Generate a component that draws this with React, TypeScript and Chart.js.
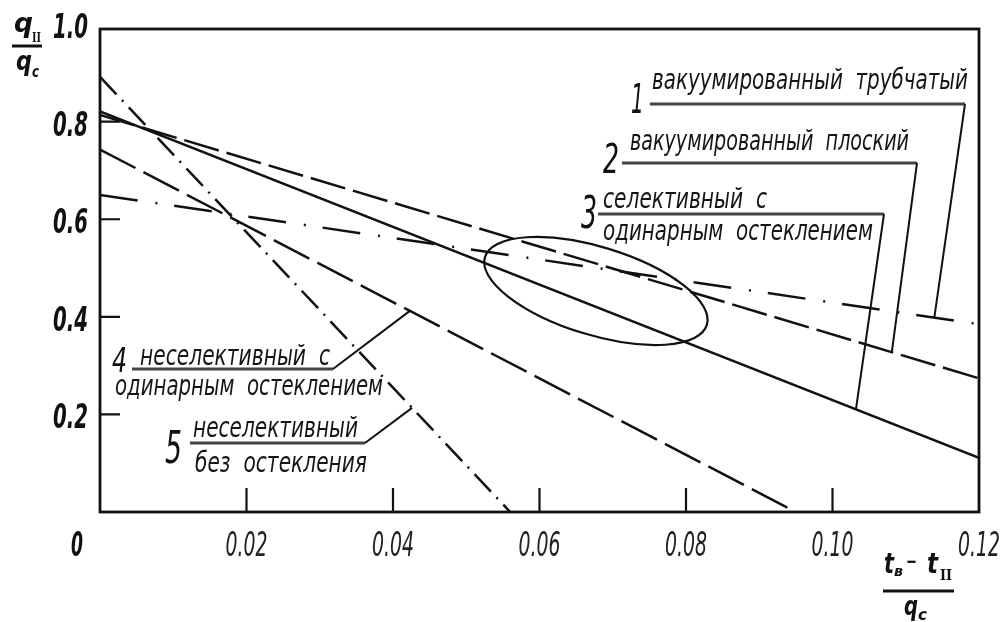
import React, { useEffect, useRef } from "react";
import { Chart, registerables } from "chart.js";

Chart.register(...registerables);

// ---- data ----
const seriesNumbers = ["1", "2", "3", "4", "5"];
const seriesLabels: string[][] = [
  ["вакуумированный  трубчатый"],
  ["вакуумированный  плоский"],
  ["селективный  с", "одинарным  остеклением"],
  ["неселективный  с", "одинарным  остеклением"],
  ["неселективный", "без  остекления"],
];
const line1X = [0, 0.12];
const line1Y = [0.65, 0.385];
const line2X = [0, 0.12];
const line2Y = [0.814, 0.274];
const line3X = [0, 0.12];
const line3Y = [0.821, 0.111];
const line4X = [0, 0.095];
const line4Y = [0.743, 0];
const line5X = [0, 0.056];
const line5Y = [0.892, 0];
const seriesX = [line1X, line2X, line3X, line4X, line5X];
const seriesY = [line1Y, line2Y, line3Y, line4Y, line5Y];

const xTickValues = [0.02, 0.04, 0.06, 0.08, 0.1, 0.12];
const xTickLabels = ["0.02", "0.04", "0.06", "0.08", "0.10", "0.12"];
const yTickValues = [0.2, 0.4, 0.6, 0.8, 1.0];
const yTickLabels = ["0.2", "0.4", "0.6", "0.8", "1.0"];
// leader targets (x value on each series)
const leaderTargetX = [0.1139, 0.1081, 0.1032, 0.0423, 0.0426];
// ellipse centre (data units)
const ellipseCenter = { x: 0.0677, y: 0.453 };

// ---- styles / layout ----
const dashes = [[38, 18, 2, 17], [36, 8], [], [40, 9], [24, 8, 2, 8]];
const FONT = '"DejaVu Sans", "Liberation Sans", sans-serif';

type LabelLayout = {
  num: { x: number; y: number; w: number; size: number };
  l1: { x: number; y: number; w: number };
  ul: { x0: number; x1: number; y: number };
  l2?: { x: number; y: number; w: number };
};
const labelLayout: LabelLayout[] = [
  { num: { x: 631, y: 113, w: 13, size: 41 }, l1: { x: 652, y: 89, w: 316 }, ul: { x0: 650, x1: 965, y: 104 } },
  { num: { x: 603, y: 173, w: 16, size: 41 }, l1: { x: 630, y: 150, w: 279 }, ul: { x0: 622, x1: 917, y: 163 } },
  { num: { x: 581, y: 228, w: 16, size: 44 }, l1: { x: 603, y: 208, w: 164 }, ul: { x0: 598, x1: 884, y: 214 }, l2: { x: 603, y: 240, w: 270 } },
  { num: { x: 112, y: 372, w: 15, size: 33 }, l1: { x: 140, y: 365, w: 190 }, ul: { x0: 132, x1: 333, y: 369 }, l2: { x: 115, y: 395, w: 268 } },
  { num: { x: 165, y: 463, w: 17, size: 45 }, l1: { x: 193, y: 437, w: 165 }, ul: { x0: 190, x1: 365, y: 443 }, l2: { x: 195, y: 472, w: 172 } },
];

function drawText(
  ctx: CanvasRenderingContext2D,
  s: string,
  x: number,
  y: number,
  size: number,
  opts: { w?: number; bold?: boolean; italic?: boolean; align?: "left" | "center" | "right"; color?: string; family?: string } = {}
) {
  ctx.save();
  ctx.font = `${opts.italic === false ? "" : "italic "}${opts.bold ? "bold " : ""}${size}px ${opts.family || FONT}`;
  ctx.fillStyle = opts.color || "#111";
  ctx.textAlign = "left";
  ctx.textBaseline = "alphabetic";
  const m = ctx.measureText(s).width;
  const sx = opts.w ? opts.w / m : 1;
  const w = m * sx;
  const dx = opts.align === "center" ? -w / 2 : opts.align === "right" ? -w : 0;
  ctx.translate(x + dx, y);
  ctx.scale(sx, 1);
  ctx.fillText(s, 0, 0);
  ctx.restore();
}

function valueAt(i: number, xv: number) {
  const X = seriesX[i];
  const Y = seriesY[i];
  return Y[0] + ((Y[1] - Y[0]) * (xv - X[0])) / (X[1] - X[0]);
}

const decor = {
  id: "decor",
  beforeDraw(chart: any) {
    const ctx = chart.ctx as CanvasRenderingContext2D;
    ctx.save();
    ctx.fillStyle = "#fff";
    ctx.fillRect(0, 0, chart.width, chart.height);
    ctx.restore();
  },
  afterDraw(chart: any) {
    const ctx = chart.ctx as CanvasRenderingContext2D;
    const xs = chart.scales.x;
    const ys = chart.scales.y;
    const { left, right, top, bottom } = chart.chartArea;
    ctx.save();
    ctx.strokeStyle = "#111";
    ctx.lineCap = "butt";

    // frame
    ctx.lineWidth = 2.8;
    ctx.strokeRect(left, top, right - left, bottom - top);

    // ticks
    ctx.lineWidth = 2.2;
    ctx.beginPath();
    xTickValues.forEach((v) => {
      if (v >= 0.12) return;
      const px = xs.getPixelForValue(v);
      ctx.moveTo(px, bottom);
      ctx.lineTo(px, bottom - 24);
    });
    yTickValues.forEach((v) => {
      if (v >= 0.99) return;
      const py = ys.getPixelForValue(v);
      ctx.moveTo(left, py);
      ctx.lineTo(left + 20, py);
    });
    ctx.stroke();

    // tick labels
    xTickValues.forEach((v, i) => {
      drawText(ctx, xTickLabels[i], xs.getPixelForValue(v), bottom + 44, 34, { w: 42, align: "center", color: "#222" });
    });
    yTickValues.forEach((v, i) => {
      drawText(ctx, yTickLabels[i], left - 12, ys.getPixelForValue(v) + 14, 34, { w: 35, align: "right", bold: true });
    });
    drawText(ctx, "0", left - 17, bottom + 44, 34, { w: 12, align: "right", bold: true });

    // y title: qII / qc
    drawText(ctx, "q", 14, 32, 27, { bold: true, w: 19 });
    drawText(ctx, "II", 32, 42, 13, { bold: true, italic: false, w: 9, family: '"DejaVu Serif", serif' });
    ctx.lineWidth = 3;
    ctx.beginPath();
    ctx.moveTo(12, 46);
    ctx.lineTo(42, 46);
    ctx.stroke();
    drawText(ctx, "q", 16, 70, 26, { bold: true, w: 16 });
    drawText(ctx, "c", 32, 77, 16, { bold: true, w: 7 });

    // x title: (tв − tII) / qc
    drawText(ctx, "t", 884, 573, 28, { bold: true, w: 10 });
    drawText(ctx, "в", 894, 576, 14, { bold: true, w: 9 });
    drawText(ctx, "−", 906, 568, 20, { bold: true, w: 11, italic: false });
    drawText(ctx, "t", 927, 573, 28, { bold: true, w: 11 });
    drawText(ctx, "II", 940, 580, 14, { bold: true, italic: false, w: 12, family: '"DejaVu Serif", serif' });
    ctx.lineWidth = 3;
    ctx.beginPath();
    ctx.moveTo(883, 591);
    ctx.lineTo(954, 591);
    ctx.stroke();
    drawText(ctx, "q", 904, 615, 26, { bold: true, w: 14 });
    drawText(ctx, "c", 918, 620, 16, { bold: true, w: 9 });

    // ellipse
    ctx.lineWidth = 2.2;
    ctx.beginPath();
    ctx.ellipse(xs.getPixelForValue(ellipseCenter.x), ys.getPixelForValue(ellipseCenter.y), 116, 44, (17 * Math.PI) / 180, 0, Math.PI * 2);
    ctx.stroke();

    // labels with leaders
    labelLayout.forEach((L, i) => {
      drawText(ctx, seriesNumbers[i], L.num.x, L.num.y, L.num.size, { w: L.num.w });
      drawText(ctx, seriesLabels[i][0], L.l1.x, L.l1.y, 28, { w: L.l1.w, color: "#151515" });
      if (L.l2 && seriesLabels[i][1]) drawText(ctx, seriesLabels[i][1], L.l2.x, L.l2.y, 28, { w: L.l2.w, color: "#151515" });
      ctx.strokeStyle = "#444";
      ctx.lineWidth = 2.8;
      ctx.beginPath();
      ctx.moveTo(L.ul.x0, L.ul.y);
      ctx.lineTo(L.ul.x1, L.ul.y);
      ctx.stroke();
      const tx = leaderTargetX[i];
      ctx.strokeStyle = "#111";
      ctx.lineWidth = 2;
      ctx.beginPath();
      ctx.moveTo(L.ul.x1, L.ul.y);
      ctx.lineTo(xs.getPixelForValue(tx), ys.getPixelForValue(valueAt(i, tx)));
      ctx.stroke();
    });

    ctx.restore();
  },
};

export default function App() {
  const ref = useRef<HTMLCanvasElement | null>(null);
  useEffect(() => {
    if (!ref.current) return;
    const datasets = seriesX.map((X, i) => ({
      label: seriesLabels[i].join(" "),
      data: X.map((x, j) => ({ x, y: seriesY[i][j] })),
      showLine: true,
      borderColor: "#111",
      borderWidth: 2.5,
      borderDash: dashes[i],
      pointRadius: 0,
      fill: false,
    }));
    const chart = new Chart(ref.current, {
      type: "scatter",
      data: { datasets },
      options: {
        animation: false,
        responsive: false,
        events: [],
        layout: { padding: { left: 100, right: 28, top: 29, bottom: 110 } },
        plugins: { legend: { display: false }, tooltip: { enabled: false } },
        scales: {
          x: { type: "linear", min: 0, max: 0.12, display: false },
          y: { type: "linear", min: 0, max: 0.99, display: false },
        },
      },
      plugins: [decor],
    } as any);
    return () => chart.destroy();
  }, []);
  return (
    <div style={{ position: "fixed", left: 0, top: 0, width: 1007, height: 622, background: "#fff" }}>
      <canvas ref={ref} width={1007} height={622} style={{ display: "block" }} />
    </div>
  );
}
